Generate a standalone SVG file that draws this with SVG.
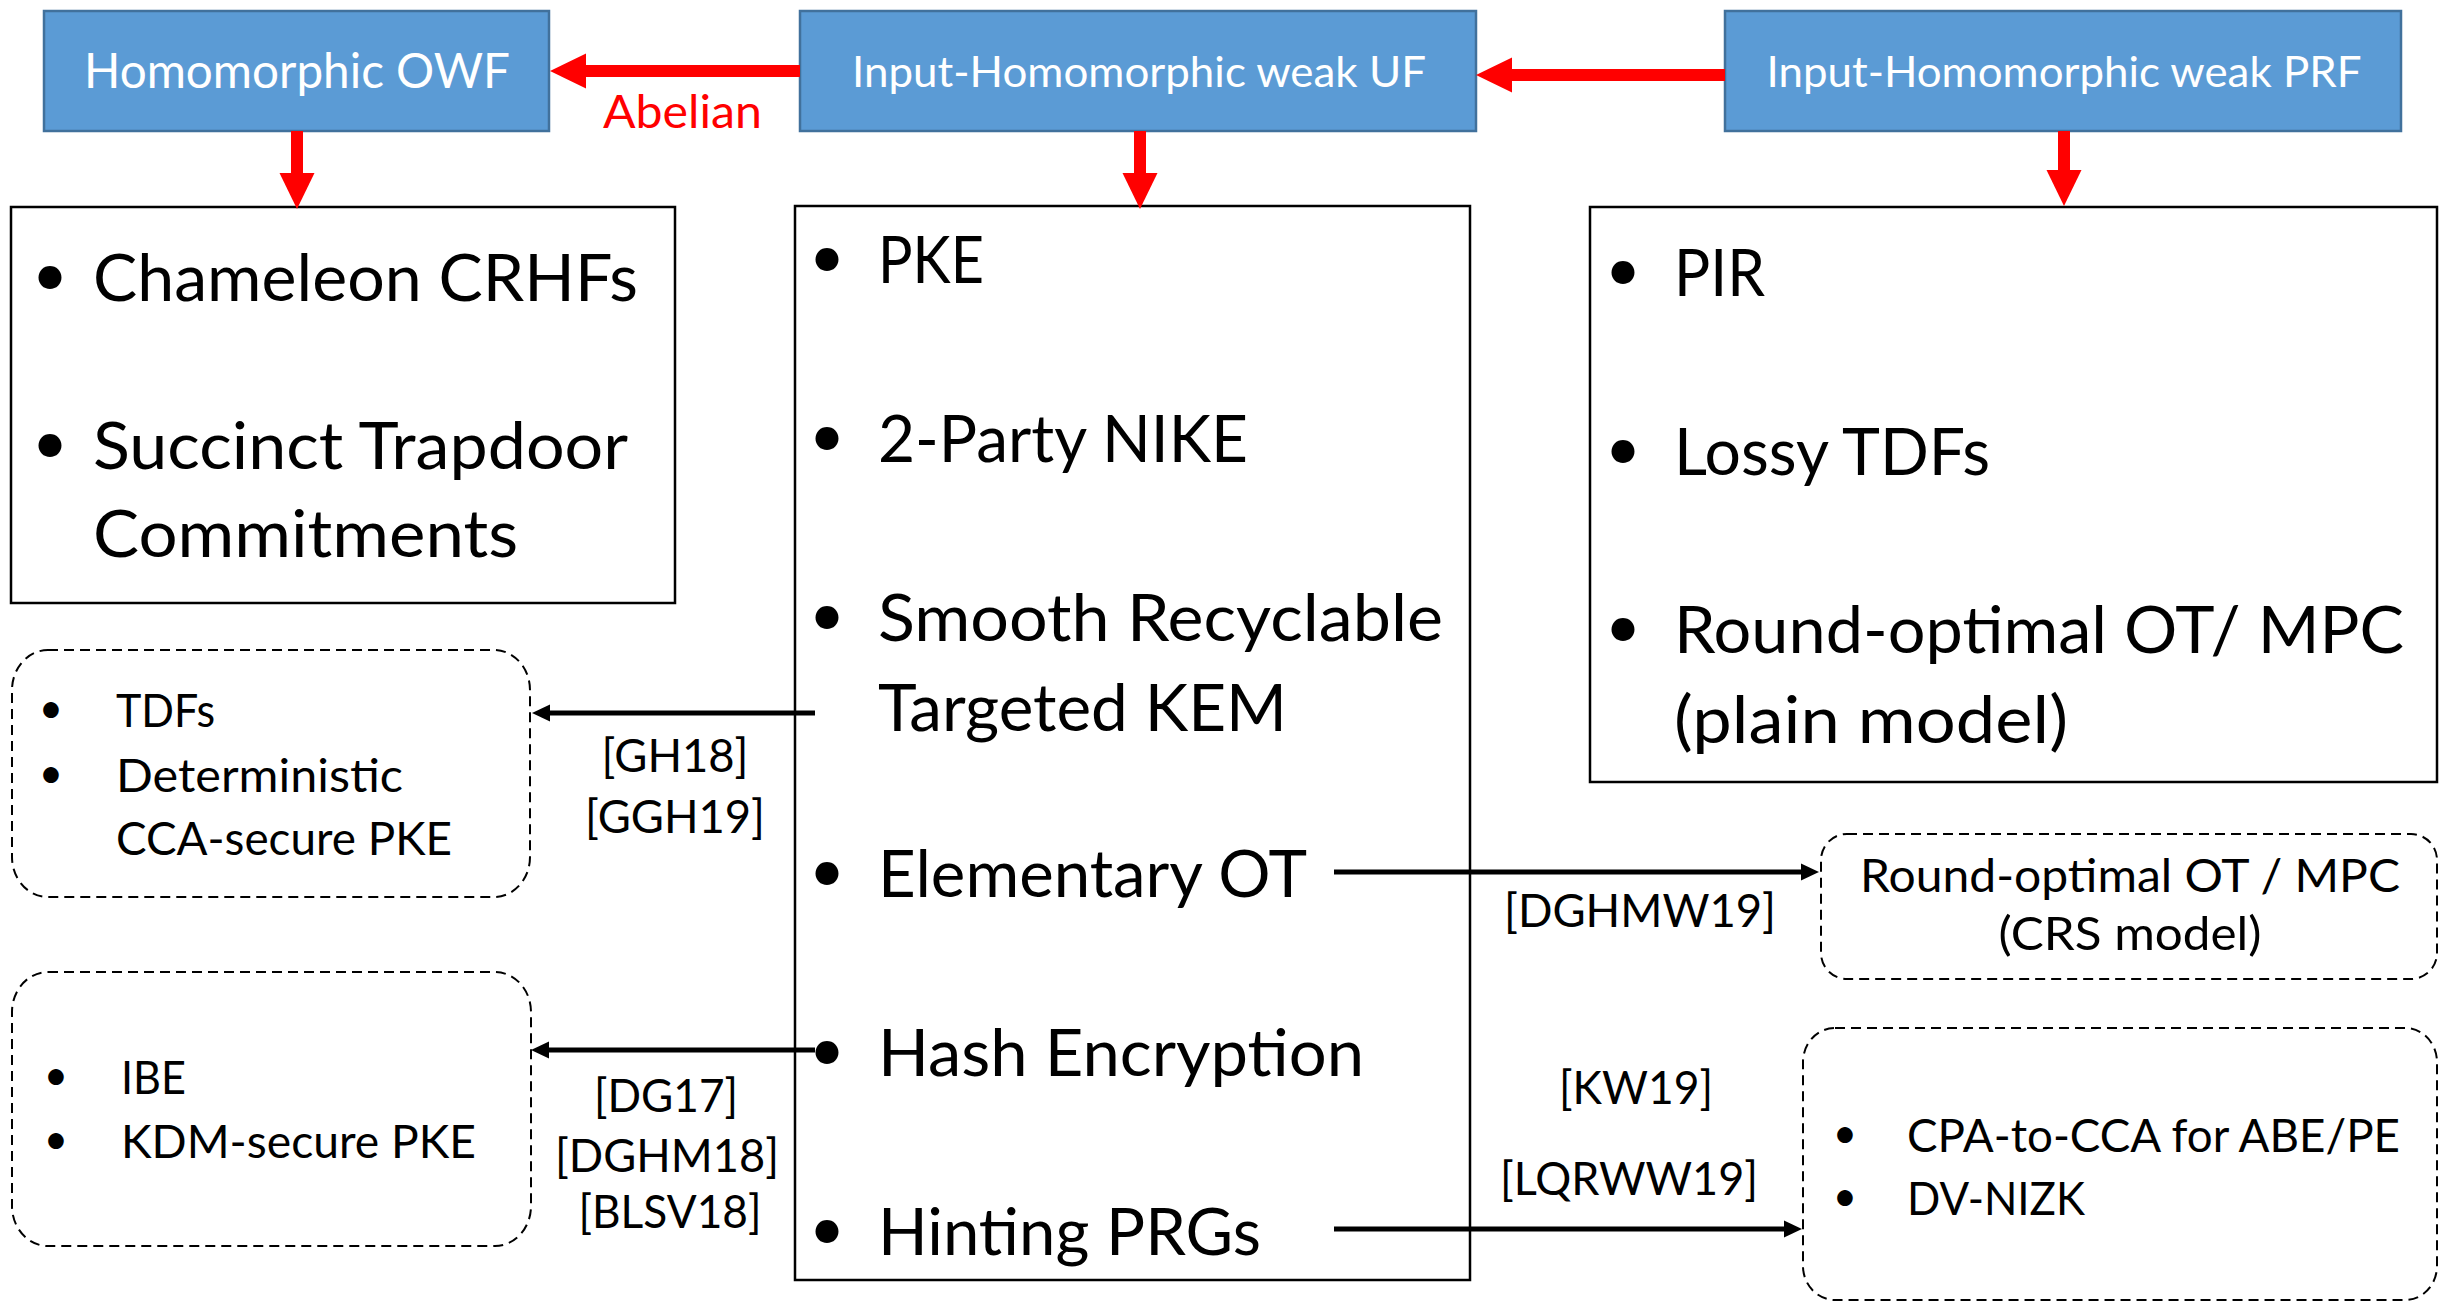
<svg xmlns="http://www.w3.org/2000/svg" width="2450" height="1303" viewBox="0 0 2450 1303">
  <style>
    text { font-family: Lato, "Open Sans", "Liberation Sans", sans-serif; }
    .head { fill: #5B9BD5; stroke: #41719C; stroke-width: 2.5; }
    .lbl { fill: #ffffff; font-size: 43px; text-anchor: middle; }
    .box { fill: #ffffff; stroke: #000000; stroke-width: 2.5; }
    .dash { fill: #ffffff; stroke: #000000; stroke-width: 2; stroke-dasharray: 10 6; }
    .big { font-size: 65.5px; fill: #000000; }
    .small { font-size: 47px; fill: #000000; }
    .ref { font-size: 46px; fill: #000000; text-anchor: middle; }
    .mid { text-anchor: middle; }
    .bb { font-size: 62px; text-anchor: middle; fill: #000000; }
    .bs { font-size: 42px; text-anchor: middle; fill: #000000; }
    .red { stroke: #FF0000; stroke-width: 12; fill: none; }
    .blk { stroke: #000000; stroke-width: 5; fill: none; }
  </style>
  <defs>
    <marker id="redHead" markerUnits="userSpaceOnUse" markerWidth="36" markerHeight="36" refX="0" refY="17.5" orient="auto" overflow="visible">
      <path d="M0,0 L36,17.5 L0,35 Z" fill="#FF0000"/>
    </marker>
    <marker id="blkHead" markerUnits="userSpaceOnUse" markerWidth="18" markerHeight="18" refX="0" refY="8.5" orient="auto" overflow="visible">
      <path d="M0,0 L18,8.5 L0,17 Z" fill="#000000"/>
    </marker>
  </defs>
  <rect width="2450" height="1303" fill="#ffffff"/>

  <!-- top row: primitives -->
  <g id="owf">
    <rect class="head" x="44" y="11" width="505" height="120"/>
    <text class="lbl" x="297" y="88" style="font-size:47.5px" textLength="426" lengthAdjust="spacingAndGlyphs">Homomorphic OWF</text>
  </g>
  <g id="weak-uf">
    <rect class="head" x="800" y="11" width="676" height="120"/>
    <text class="lbl" x="1139" y="87" textLength="574" lengthAdjust="spacingAndGlyphs">Input-Homomorphic weak UF</text>
  </g>
  <g id="weak-prf">
    <rect class="head" x="1725" y="11" width="676" height="120"/>
    <text class="lbl" x="2064" y="87" textLength="595" lengthAdjust="spacingAndGlyphs">Input-Homomorphic weak PRF</text>
  </g>

  <!-- applications of homomorphic OWF -->
  <g id="owf-apps">
    <rect class="box" x="11" y="207" width="664" height="396"/>
    <text class="bb" x="50" y="296">•</text>
    <text class="big" x="93" y="301" textLength="545" lengthAdjust="spacingAndGlyphs">Chameleon CRHFs</text>
    <text class="bb" x="50" y="464">•</text>
    <text class="big" x="93" y="469" textLength="535" lengthAdjust="spacingAndGlyphs">Succinct Trapdoor</text>
    <text class="big" x="93" y="557" textLength="425" lengthAdjust="spacingAndGlyphs">Commitments</text>
  </g>

  <!-- applications of weak UF -->
  <g id="uf-apps">
    <rect class="box" x="795" y="206" width="675" height="1074"/>
    <text class="bb" x="827" y="278">•</text>
    <text class="big" x="878" y="283" textLength="106" lengthAdjust="spacingAndGlyphs">PKE</text>
    <text class="bb" x="827" y="457">•</text>
    <text class="big" x="878" y="462" textLength="370" lengthAdjust="spacingAndGlyphs">2-Party NIKE</text>
    <text class="bb" x="827" y="636">•</text>
    <text class="big" x="878" y="641" textLength="565" lengthAdjust="spacingAndGlyphs">Smooth Recyclable</text>
    <text class="big" x="878" y="731" textLength="409" lengthAdjust="spacingAndGlyphs">Targeted KEM</text>
    <text class="bb" x="827" y="892">•</text>
    <text class="big" x="878" y="897" textLength="429" lengthAdjust="spacingAndGlyphs">Elementary OT</text>
    <text class="bb" x="827" y="1071">•</text>
    <text class="big" x="878" y="1076" textLength="486" lengthAdjust="spacingAndGlyphs">Hash Encryption</text>
    <text class="bb" x="827" y="1250">•</text>
    <text class="big" x="878" y="1255" textLength="383" lengthAdjust="spacingAndGlyphs">Hinting PRGs</text>
  </g>

  <!-- applications of weak PRF -->
  <g id="prf-apps">
    <rect class="box" x="1590" y="207" width="847" height="575"/>
    <text class="bb" x="1623" y="291">•</text>
    <text class="big" x="1674" y="296" textLength="91" lengthAdjust="spacingAndGlyphs">PIR</text>
    <text class="bb" x="1623" y="470">•</text>
    <text class="big" x="1674" y="475" textLength="316" lengthAdjust="spacingAndGlyphs">Lossy TDFs</text>
    <text class="bb" x="1623" y="648">•</text>
    <text class="big" x="1674" y="653" textLength="730" lengthAdjust="spacingAndGlyphs">Round-optimal OT/ MPC</text>
    <text class="big" x="1674" y="743" textLength="394" lengthAdjust="spacingAndGlyphs">(plain model)</text>
  </g>

  <!-- derived results -->
  <g id="tdf">
    <rect class="dash" x="12" y="650" width="518" height="247" rx="36" ry="40"/>
    <text class="bs" x="51" y="723">•</text>
    <text class="small" x="116" y="727" textLength="99" lengthAdjust="spacingAndGlyphs">TDFs</text>
    <text class="bs" x="51" y="788">•</text>
    <text class="small" x="116" y="792" textLength="287" lengthAdjust="spacingAndGlyphs">Deterministic</text>
    <text class="small" x="116" y="855" textLength="336" lengthAdjust="spacingAndGlyphs">CCA-secure PKE</text>
  </g>
  <g id="ibe">
    <rect class="dash" x="12" y="972" width="519" height="274" rx="36" ry="40"/>
    <text class="bs" x="56" y="1090">•</text>
    <text class="small" x="121" y="1094" textLength="65" lengthAdjust="spacingAndGlyphs">IBE</text>
    <text class="bs" x="56" y="1154">•</text>
    <text class="small" x="121" y="1158" textLength="355" lengthAdjust="spacingAndGlyphs">KDM-secure PKE</text>
  </g>
  <g id="ot-crs">
    <rect class="dash" x="1821" y="834" width="616" height="145" rx="26" ry="26"/>
    <text class="small mid" x="2130" y="892" textLength="540" lengthAdjust="spacingAndGlyphs">Round-optimal OT / MPC</text>
    <text class="small mid" x="2130" y="950" textLength="263" lengthAdjust="spacingAndGlyphs">(CRS model)</text>
  </g>
  <g id="cca">
    <rect class="dash" x="1803" y="1028" width="634" height="272" rx="32" ry="34"/>
    <text class="bs" x="1845" y="1148">•</text>
    <text class="small" x="1907" y="1152" textLength="493" lengthAdjust="spacingAndGlyphs">CPA-to-CCA for ABE/PE</text>
    <text class="bs" x="1845" y="1211">•</text>
    <text class="small" x="1907" y="1215" textLength="178" lengthAdjust="spacingAndGlyphs">DV-NIZK</text>
  </g>

  <!-- implications -->
  <g id="connectors">
    <line class="red" x1="800" y1="71" x2="586" y2="71" marker-end="url(#redHead)"/>
    <line class="red" x1="1725" y1="75" x2="1512" y2="75" marker-end="url(#redHead)"/>
    <line class="red" x1="297" y1="131" x2="297" y2="173" marker-end="url(#redHead)"/>
    <line class="red" x1="1140" y1="131" x2="1140" y2="173" marker-end="url(#redHead)"/>
    <line class="red" x1="2064" y1="131" x2="2064" y2="170" marker-end="url(#redHead)"/>

    <line class="blk" x1="815" y1="713" x2="550" y2="713" marker-end="url(#blkHead)"/>
    <line class="blk" x1="815" y1="1050" x2="549" y2="1050" marker-end="url(#blkHead)"/>
    <line class="blk" x1="1334" y1="872" x2="1801" y2="872" marker-end="url(#blkHead)"/>
    <line class="blk" x1="1334" y1="1229" x2="1784" y2="1229" marker-end="url(#blkHead)"/>

    <text x="603" y="128" fill="#FF0000" style="font-size:46px" textLength="159" lengthAdjust="spacingAndGlyphs">Abelian</text>
    <text class="ref" x="675" y="772" textLength="147" lengthAdjust="spacingAndGlyphs">[GH18]</text>
    <text class="ref" x="675" y="833" textLength="180" lengthAdjust="spacingAndGlyphs">[GGH19]</text>
    <text class="ref" x="666" y="1112" textLength="144" lengthAdjust="spacingAndGlyphs">[DG17]</text>
    <text class="ref" x="667" y="1172" textLength="224" lengthAdjust="spacingAndGlyphs">[DGHM18]</text>
    <text class="ref" x="670" y="1228" textLength="183" lengthAdjust="spacingAndGlyphs">[BLSV18]</text>
    <text class="ref" x="1640" y="927" textLength="272" lengthAdjust="spacingAndGlyphs">[DGHMW19]</text>
    <text class="ref" x="1636" y="1104" textLength="154" lengthAdjust="spacingAndGlyphs">[KW19]</text>
    <text class="ref" x="1629" y="1195" textLength="258" lengthAdjust="spacingAndGlyphs">[LQRWW19]</text>
  </g>
</svg>
